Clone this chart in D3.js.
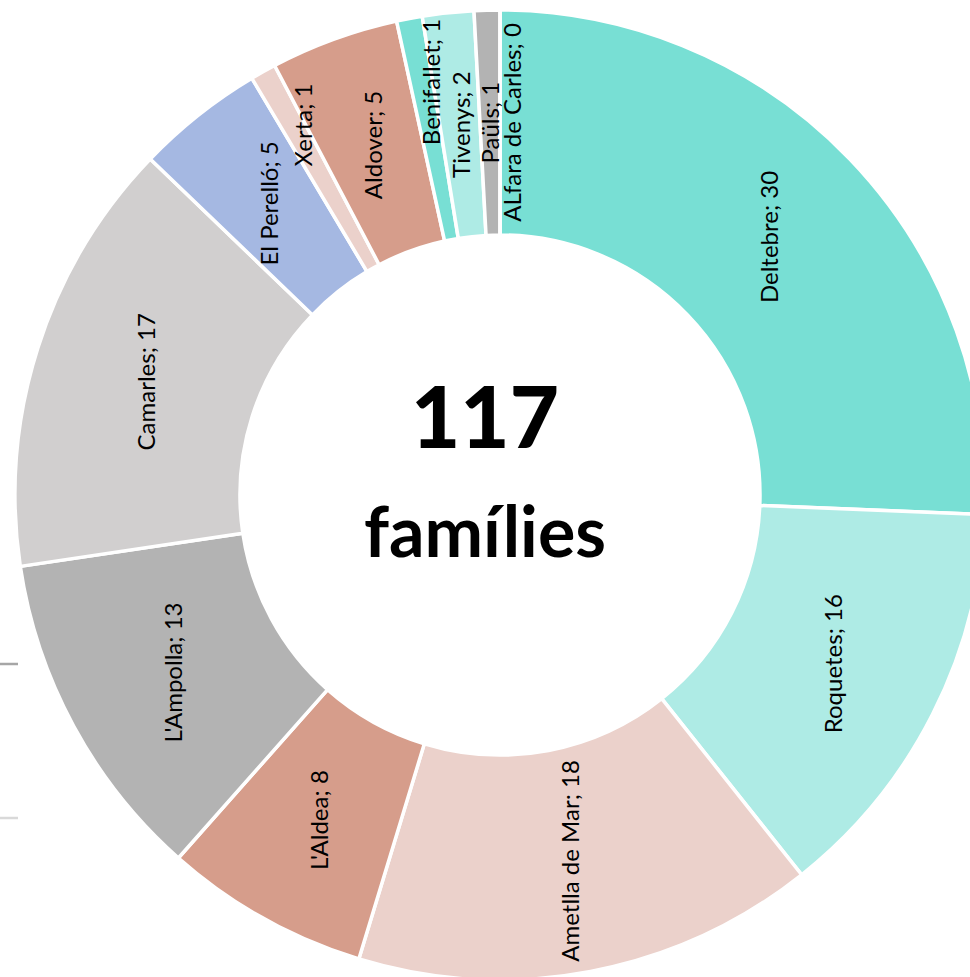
<!DOCTYPE html>
<html>
<head>
<meta charset="utf-8">
<script src="https://cdn.jsdelivr.net/npm/d3@7"></script>
<style>
  html, body { margin: 0; padding: 0; background: #fff; }
  svg { display: block; }
</style>
</head>
<body>
<svg id="chart" width="970" height="977"></svg>
<script>
// Families per municipality (clockwise from the top)
const municipalities = ["Deltebre", "Roquetes", "Ametlla de Mar", "L'Aldea", "L'Ampolla", "Camarles",
  "El Perelló", "Xerta", "Aldover", "Benifallet", "Tivenys", "Paüls", "ALfara de Carles"];
const families = [30, 16, 18, 8, 13, 17, 5, 1, 5, 1, 2, 1, 0];
const sliceColors = ["#78dfd4", "#aeebe5", "#ebd1cb", "#d69d8b", "#b3b3b3", "#d1cfcf",
  "#a5b8e2", "#ebd1cb", "#d69d8b", "#78dfd4", "#aeebe5", "#b3b3b3", "#d1cfcf"];
const totalLabel = "famílies";

const W = 970, H = 977;
const cx = 500, cy = 495;
const innerR = 260, outerR = 485;

// Labels of the narrow slices at the top are moved apart so they do not collide
const labelNudge = {
  "Xerta": [-16, -45],
  "Benifallet": [0, -47],
  "ALfara de Carles": [11, 0]
};

const svg = d3.select("#chart");

// Short grey tick marks at the left edge
svg.append("line").attr("x1", 0).attr("x2", 18).attr("y1", 664).attr("y2", 664)
  .attr("stroke", "#a6a6a6").attr("stroke-width", 2.5);
svg.append("line").attr("x1", 0).attr("x2", 18).attr("y1", 818).attr("y2", 818)
  .attr("stroke", "#d9d9d9").attr("stroke-width", 2.5);

const data = municipalities.map((name, i) => ({ name, value: families[i], color: sliceColors[i] }));

const pie = d3.pie().value(d => d.value).sort(null).startAngle(0).endAngle(2 * Math.PI);
const arc = d3.arc().innerRadius(innerR).outerRadius(outerR);
const labelArc = d3.arc().innerRadius((innerR + outerR) / 2).outerRadius((innerR + outerR) / 2);

const g = svg.append("g").attr("transform", `translate(${cx},${cy})`);
const arcs = pie(data);

g.selectAll("path.slice")
  .data(arcs)
  .join("path")
  .attr("class", "slice")
  .attr("d", arc)
  .attr("fill", d => d.data.color)
  .attr("stroke", "#fff")
  .attr("stroke-width", 3.5)
  .attr("stroke-linejoin", "miter");

// Data labels, rotated to read bottom-to-top
g.selectAll("text.lbl")
  .data(arcs)
  .join("text")
  .attr("class", "lbl")
  .attr("transform", d => {
    const [x, y] = labelArc.centroid(d);
    const n = labelNudge[d.data.name] || [0, 0];
    return `translate(${x + n[0]},${y + n[1]}) rotate(-90)`;
  })
  .attr("text-anchor", "middle")
  .attr("dominant-baseline", "central")
  .attr("font-family", "Lato, 'Open Sans', sans-serif")
  .attr("font-size", 24)
  .attr("fill", "#000")
  .text(d => `${d.data.name}; ${d.data.value}`);

// Total in the centre
const total = d3.sum(families);
svg.append("text")
  .attr("x", 485).attr("y", 448)
  .attr("text-anchor", "middle")
  .attr("font-family", "Lato, sans-serif")
  .attr("font-weight", 900)
  .attr("font-size", 85)
  .attr("fill", "#000")
  .text(total);
svg.append("text")
  .attr("x", 485).attr("y", 557)
  .attr("text-anchor", "middle")
  .attr("font-family", "Lato, sans-serif")
  .attr("font-weight", 700)
  .attr("font-size", 70)
  .attr("fill", "#000")
  .text(totalLabel);
</script>
</body>
</html>
